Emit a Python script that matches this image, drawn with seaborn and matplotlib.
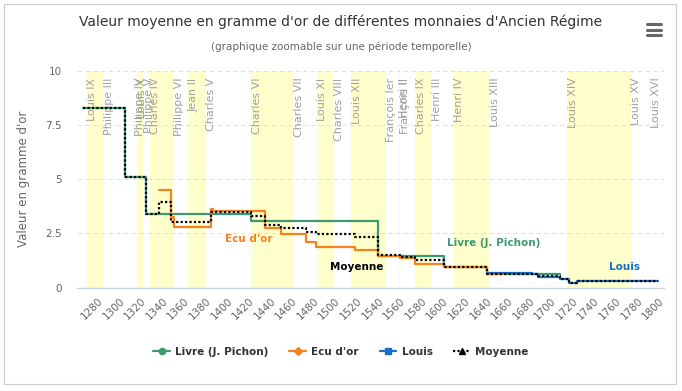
import pandas as pd
import matplotlib.pyplot as plt
import seaborn as sns
from matplotlib.lines import Line2D
from matplotlib.patches import Rectangle

# --- donnees ---
annees_livre = [1266, 1305, 1325, 1422, 1540, 1601, 1641, 1708]
livre = [8.3, 5.1, 3.38, 3.07, 1.48, 0.95, 0.63, 0.63]

annees_ecu = [1337, 1348, 1351, 1385, 1387, 1435, 1450, 1473, 1482, 1518, 1540, 1560, 1574, 1601, 1641, 1655]
ecu = [4.50, 3.27, 2.78, 3.62, 3.55, 2.76, 2.46, 2.12, 1.89, 1.74, 1.47, 1.35, 1.09, 0.96, 0.64, 0.64]

annees_louis = [1641, 1682, 1688, 1708, 1717, 1724, 1779, 1799]
louis = [0.66, 0.61, 0.50, 0.42, 0.22, 0.33, 0.29, 0.29]

annees_moy = [1266, 1305, 1325, 1337, 1348, 1385, 1422, 1435, 1450, 1473, 1482, 1518,
              1540, 1560, 1574, 1601, 1641, 1682, 1688, 1708, 1717, 1724, 1779, 1799]
moyenne = [8.3, 5.1, 3.40, 3.93, 3.04, 3.50, 3.32, 2.89, 2.74, 2.58, 2.46, 2.35,
           1.49, 1.42, 1.28, 0.96, 0.65, 0.61, 0.56, 0.42, 0.22, 0.33, 0.29, 0.29]

# regnes : nom, debut, fin
rois = ["Louis IX", "Philippe III", "Philippe IV", "Louis X", "Philippe V", "Charles IV",
        "Philippe VI", "Jean II", "Charles V", "Charles VI", "Charles VII", "Louis XI",
        "Charles VIII", "Louis XII", "François Ier", "Henri II", "François II", "Charles IX",
        "Henri III", "Henri IV", "Louis XIII", "Louis XIV", "Louis XV", "Louis XVI"]
debut_regne = [1226, 1270, 1285, 1314, 1316, 1322, 1328, 1350, 1364, 1380, 1422, 1461,
               1483, 1498, 1515, 1547, 1559, 1560, 1574, 1589, 1610, 1643, 1715, 1774]
fin_regne = [1270, 1285, 1314, 1316, 1322, 1328, 1350, 1364, 1380, 1422, 1461, 1483,
             1498, 1515, 1547, 1559, 1560, 1574, 1589, 1610, 1643, 1715, 1774, 1792]
bande = [False, True, False, False, True, False, True, False, True, False, True, False,
         True, False, True, False, True, False, True, False, True, False, True, False]

c_livre = "#3d9a6f"
c_ecu = "#f5821f"
c_louis = "#1a6ec8"
c_moy = "#000000"

W, H = 682, 391

def fx(px):
    return px / W

def fy(py):
    return 1 - py / H

sns.set_style("white")
plt.rcParams['font.family'] = ['DejaVu Sans']

fig = plt.figure(figsize=(W / 100, H / 100), dpi=100)
ax = fig.add_axes([fx(76.7), fy(287.7), (664 - 76.7) / W, (287.7 - 70.7) / H])

for d, f, b in zip(debut_regne, fin_regne, bande):
    if b:
        ax.axvspan(d, f, color="#ffffcc", lw=0, zorder=0.2)

for nom, f in zip(rois, fin_regne):
    ax.annotate(nom, xy=(f, 10), xycoords='data', xytext=(5.5, -7), textcoords='offset pixels',
                rotation=90, ha='center', va='top', fontsize=8, color='#a0a0a0', zorder=1)

series = [
    (annees_livre, livre, c_livre, '-'),
    (annees_ecu, ecu, c_ecu, '-'),
    (annees_louis, louis, c_louis, '-'),
    (annees_moy, moyenne, c_moy, (0, (1, 1))),
]
for i, (x, y, c, ls) in enumerate(series):
    df = pd.DataFrame({"annee": x, "valeur": y})
    sns.lineplot(data=df, x="annee", y="valeur", ax=ax, color=c, linewidth=1.6,
                 linestyle=ls, drawstyle='steps-post', estimator=None, zorder=3 + i)

ax.text(1419.7, 2.24, "Ecu d'or", color=c_ecu, fontsize=7.5, weight='bold', ha='center', va='center', zorder=10)
ax.text(1520.2, 0.97, "Moyenne", color=c_moy, fontsize=7.5, weight='bold', ha='center', va='center', zorder=10)
ax.text(1647, 2.07, "Livre (J. Pichon)", color=c_livre, fontsize=7.5, weight='bold', ha='center', va='center', zorder=10)
ax.text(1767.6, 0.94, "Louis", color=c_louis, fontsize=7.5, weight='bold', ha='center', va='center', zorder=10)

ax.set_xlim(1260.5, 1804.6)
ax.set_ylim(0, 10)
ax.set_xlabel("")
ax.set_ylabel("Valeur en gramme d'or", color='#666666', fontsize=8.5)
ax.yaxis.set_label_coords((30 - 76.7) / (664 - 76.7), 0.5)

xt = list(range(1280, 1801, 20))
ax.set_xticks(xt)
ax.set_xticklabels([str(t) for t in xt], rotation=45, ha='right', va='top',
                   rotation_mode='anchor', color='#666666', fontsize=7.5)
ax.set_yticks([0, 2.5, 5, 7.5, 10])
ax.set_yticklabels(["0", "2.5", "5", "7.5", "10"], color='#666666', fontsize=7.5)
ax.tick_params(axis='x', length=3.6, color='#ccd6eb', width=1, pad=2)
ax.tick_params(axis='y', length=0, pad=10.6)

ax.yaxis.grid(True, color='#e0e0e0', linestyle=(0, (4, 3)), lw=0.8, zorder=0.5)
ax.set_axisbelow(True)
for s in ['left', 'top', 'right']:
    ax.spines[s].set_visible(False)
ax.spines['bottom'].set_color('#ccd6eb')
ax.spines['bottom'].set_linewidth(1)
ax.spines['bottom'].set_zorder(2.5)

fig.text(0.5, fy(22), "Valeur moyenne en gramme d'or de différentes monnaies d'Ancien Régime",
         ha='center', va='center', fontsize=10, color='#333333')
fig.text(0.5, fy(47), "(graphique zoomable sur une période temporelle)",
         ha='center', va='center', fontsize=7.5, color='#666666')

# menu icon
for yy in [24, 29.5, 35]:
    fig.add_artist(Line2D([fx(647), fx(661)], [fy(yy), fy(yy)], color='#666666', lw=2.2,
                          transform=fig.transFigure))

fig.add_artist(Rectangle((fx(3.5), fy(383.5)), fx(672), (380) / H, fill=False,
                         edgecolor='#cccccc', lw=0.8, transform=fig.transFigure))

handles = [
    Line2D([], [], color=c_livre, lw=1.6, marker='o', ms=4.5),
    Line2D([], [], color=c_ecu, lw=1.6, marker='D', ms=4),
    Line2D([], [], color=c_louis, lw=1.6, marker='s', ms=4.5),
    Line2D([], [], color=c_moy, lw=1.6, linestyle=(0, (1, 1)), marker='^', ms=4.5),
]
labels = ["Livre (J. Pichon)", "Ecu d'or", "Louis", "Moyenne"]
fig.legend(handles, labels, loc='center', bbox_to_anchor=(0.5, fy(351.7)), ncol=4, frameon=False,
           prop={'weight': 'bold', 'size': 7.5}, labelcolor='#333333',
           handlelength=1.6, handletextpad=0.5, columnspacing=2.0)

fig.savefig("out.png", dpi=100)
